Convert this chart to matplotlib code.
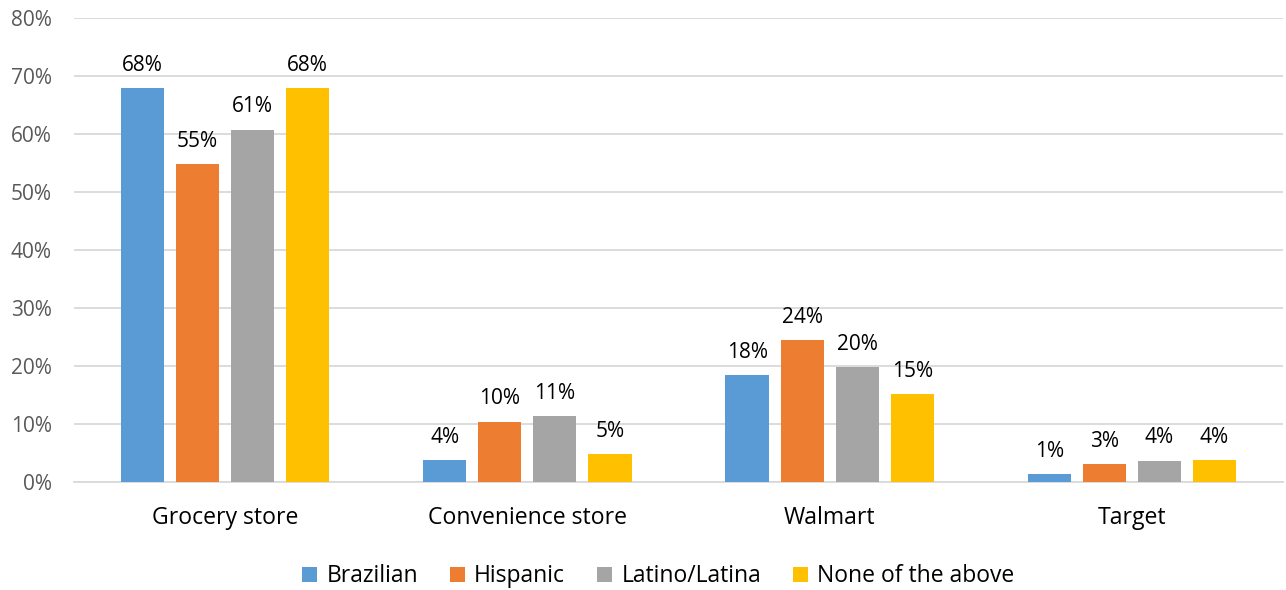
import numpy as np
import matplotlib.pyplot as plt

categories = ['Grocery store', 'Convenience store', 'Walmart', 'Target']
series_names = ['Brazilian', 'Hispanic', 'Latino/Latina', 'None of the above']
brazilian = [67.8, 3.8, 18.4, 1.4]
hispanic = [54.7, 10.4, 24.4, 3.1]
latino = [60.7, 11.4, 19.8, 3.7]
none_above = [67.8, 4.8, 15.2, 3.8]
colors = ['#5B9BD5', '#ED7D31', '#A5A5A5', '#FFC000']

plt.rcParams['font.family'] = ['Open Sans', 'DejaVu Sans']

fig = plt.figure(figsize=(12.86, 5.9), dpi=100)
ax = fig.add_axes([74 / 1286, 1 - 482 / 590, (1283 - 74) / 1286, (482 - 17.5) / 590])

x = np.arange(len(categories))
width = 0.143
pitch = 0.182
all_series = [brazilian, hispanic, latino, none_above]
for i, (name, vals) in enumerate(zip(series_names, all_series)):
    pos = x + (i - 1.5) * pitch
    bars = ax.bar(pos, vals, width, color=colors[i], label=name, zorder=3)
    for b, v in zip(bars, vals):
        ax.text(b.get_x() + b.get_width() / 2, v + 2.1, f'{v:.0f}%',
                ha='center', va='bottom', fontsize=15, color='black')

ax.set_xlim(-0.5, 3.5)
ax.set_ylim(0, 80)
ax.set_yticks(range(0, 81, 10))
ax.set_yticklabels([f'{t}%' for t in range(0, 81, 10)])
ax.set_xticks(x)
ax.set_xticklabels(categories)
ax.yaxis.grid(True, color='#D9D9D9', linewidth=1.3, zorder=0)
for s in ['top', 'right', 'left']:
    ax.spines[s].set_visible(False)
ax.spines['bottom'].set_color('#D9D9D9')
ax.spines['bottom'].set_linewidth(1.3)
ax.tick_params(axis='y', length=0, labelsize=15, labelcolor='#595959', pad=16)
ax.tick_params(axis='x', length=0, labelsize=16.6, labelcolor='black', pad=17)

fig.legend(loc='lower center', ncol=4, bbox_to_anchor=(0.512, -0.032), frameon=False,
           fontsize=16.5, handlelength=0.65, handleheight=0.65, handletextpad=0.4,
           columnspacing=1.4)

fig.savefig('out.png', dpi=100)
